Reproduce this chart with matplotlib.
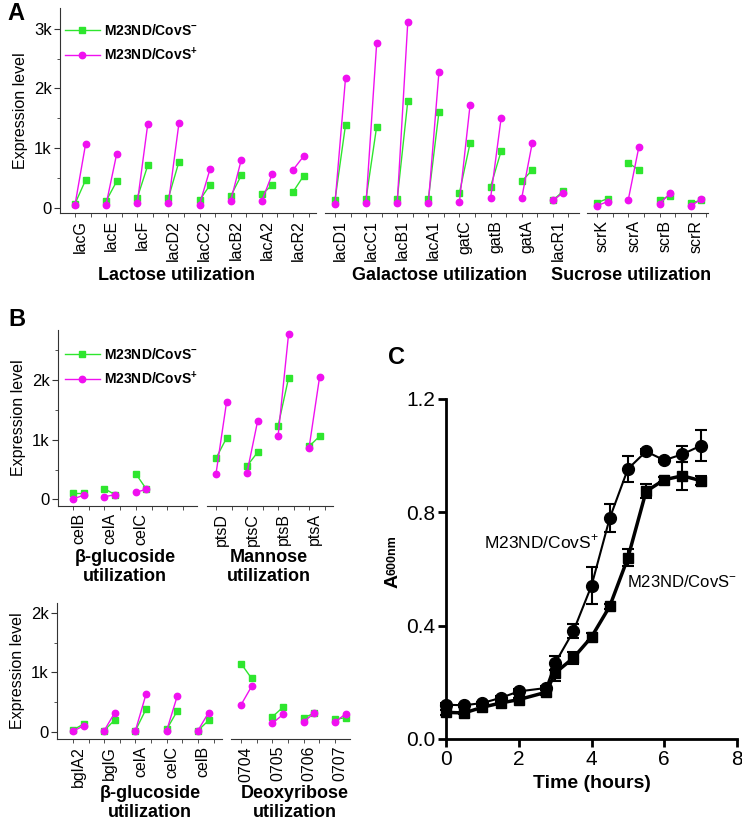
import matplotlib
matplotlib.use("Agg")
import matplotlib.pyplot as plt
import numpy as np
from matplotlib.lines import Line2D

plt.rcParams['font.family'] = ['Liberation Sans', 'DejaVu Sans']
plt.rcParams['mathtext.fontset'] = 'custom'
plt.rcParams['mathtext.rm'] = 'Liberation Sans'
plt.rcParams['mathtext.bf'] = 'Liberation Sans:bold'

W, H = 742, 823
GREEN = '#2ee62e'
MAGENTA = '#f010f0'

# ---- panel A data (expression, in thousands) [left, right] per gene ----
lac_genes = ['lacG', 'lacE', 'lacF', 'lacD2', 'lacC2', 'lacB2', 'lacA2', 'lacR2']
lac_neg = [[0.06, 0.46], [0.11, 0.44], [0.16, 0.71], [0.16, 0.77],
           [0.12, 0.38], [0.19, 0.54], [0.22, 0.38], [0.26, 0.53]]
lac_pos = [[0.04, 1.06], [0.05, 0.90], [0.07, 1.41], [0.07, 1.42],
           [0.05, 0.65], [0.11, 0.80], [0.11, 0.57], [0.63, 0.86]]

gal_genes = ['lacD1', 'lacC1', 'lacB1', 'lacA1', 'gatC', 'gatB', 'gatA', 'lacR1']
gal_neg = [[0.12, 1.39], [0.15, 1.36], [0.14, 1.79], [0.14, 1.60],
           [0.25, 1.08], [0.35, 0.95], [0.44, 0.63], [0.12, 0.28]]
gal_pos = [[0.06, 2.18], [0.08, 2.76], [0.07, 3.12], [0.07, 2.27],
           [0.10, 1.72], [0.16, 1.51], [0.16, 1.09], [0.12, 0.25]]

suc_genes = ['scrK', 'scrA', 'scrB', 'scrR']
suc_neg = [[0.08, 0.15], [0.75, 0.63], [0.12, 0.20], [0.08, 0.12]]
suc_pos = [[0.03, 0.10], [0.13, 1.02], [0.06, 0.24], [0.03, 0.14]]

# ---- panel B top ----
bglu1_genes = ['celB', 'celA', 'celC']
bglu1_neg = [[0.11, 0.11], [0.18, 0.08], [0.43, 0.17]]
bglu1_pos = [[0.01, 0.07], [0.045, 0.08], [0.12, 0.17]]

man_genes = ['ptsD', 'ptsC', 'ptsB', 'ptsA']
man_neg = [[0.69, 1.03], [0.56, 0.79], [1.23, 2.04], [0.89, 1.06]]
man_pos = [[0.43, 1.63], [0.45, 1.31], [1.06, 2.78], [0.87, 2.06]]

# ---- panel B bottom ----
bglu2_genes = ['bglA2', 'bglG', 'celA', 'celC', 'celB']
bglu2_neg = [[0.04, 0.14], [0.03, 0.21], [0.03, 0.39], [0.05, 0.36], [0.03, 0.20]]
bglu2_pos = [[0.02, 0.11], [0.03, 0.33], [0.03, 0.64], [0.03, 0.61], [0.03, 0.33]]

deo_genes = ['0704', '0705', '0706', '0707']
deo_neg = [[1.15, 0.90], [0.26, 0.42], [0.245, 0.32], [0.22, 0.245]]
deo_pos = [[0.46, 0.77], [0.15, 0.30], [0.18, 0.32], [0.17, 0.31]]

# ---- panel C growth curve ----
time_h = [0, 0.5, 1, 1.5, 2, 2.75, 3, 3.5, 4, 4.5, 5, 5.5, 6, 6.5, 7]
od_pos = [0.121, 0.119, 0.127, 0.145, 0.168, 0.18, 0.268, 0.38, 0.541, 0.779,
          0.953, 1.015, 0.984, 1.005, 1.035]
err_pos = [0.006, 0.005, 0.005, 0.008, 0.008, 0.008, 0.025, 0.025, 0.065, 0.05,
           0.045, 0.008, 0.008, 0.028, 0.055]
od_neg = [0.094, 0.092, 0.112, 0.127, 0.139, 0.165, 0.233, 0.286, 0.36, 0.468,
          0.639, 0.874, 0.915, 0.929, 0.912]
err_neg = [0.008, 0.005, 0.005, 0.005, 0.005, 0.008, 0.03, 0.02, 0.015, 0.008,
           0.03, 0.025, 0.008, 0.05, 0.015]

fig = plt.figure(figsize=(W / 100, H / 100), dpi=100)


def px_axes(l, r, top, bottom):
    return fig.add_axes([l / W, 1 - bottom / H, (r - l) / W, (bottom - top) / H])


D = 0.17


def gene_axes(l, r, top, bottom, genes, neg, pos, xlim, ylim, yaxis=False):
    ax = px_axes(l, r, top, bottom)
    for i in range(len(genes)):
        ax.plot([i - D, i + D], neg[i], color=GREEN, marker='s', ms=3.8, lw=1, zorder=2)
        ax.plot([i - D, i + D], pos[i], color=MAGENTA, marker='o', ms=4.6, lw=1, zorder=3)
    for s in ['top', 'right']:
        ax.spines[s].set_visible(False)
    ax.spines['bottom'].set_color('#333333')
    ax.spines['left'].set_color('#333333')
    ax.set_xticks(range(len(genes)))
    ax.set_xticklabels(genes, rotation=90, fontsize=11.5)
    ax.tick_params(axis='x', which='major', length=0, pad=5)
    ax.set_xticks(np.arange(-D, xlim[1], 0.5), minor=True)
    ax.tick_params(axis='x', which='minor', length=3, color='#333333')
    if yaxis:
        major = [v for v in [0, 1, 2, 3] if v <= ylim[1]]
        ax.set_yticks(major)
        ax.set_yticklabels(['0' if v == 0 else f'{v}k' for v in major], fontsize=12)
        ax.set_yticks(np.arange(0.5, ylim[1], 1), minor=True)
        ax.tick_params(axis='y', which='major', length=4, color='#333333', pad=2)
        ax.tick_params(axis='y', which='minor', length=2, color='#333333')
        ax.set_ylabel('Expression level', fontsize=11.5, labelpad=4)
    else:
        ax.spines['left'].set_visible(False)
        ax.set_yticks([])
    ax.set_xlim(*xlim)
    ax.set_ylim(*ylim)
    ax.patch.set_alpha(0)
    return ax


# panel A
ylimA = (-0.092, 3.35)
axA1 = gene_axes(60, 316, 8, 213, lac_genes, lac_neg, lac_pos, (-0.65, 7.57), ylimA, True)
gene_axes(325, 579, 8, 213, gal_genes, gal_neg, gal_pos, (-0.49, 7.67), ylimA)
gene_axes(587, 708, 8, 213, suc_genes, suc_neg, suc_pos, (-0.49, 3.38), ylimA)

# panel B top
ylimB1 = (-0.11, 2.84)
axB1 = gene_axes(58, 197, 330, 506, bglu1_genes, bglu1_neg, bglu1_pos, (-0.65, 3.78), ylimB1, True)
gene_axes(207, 333, 330, 506, man_genes, man_neg, man_pos, (-0.46, 3.6), ylimB1)

# panel B bottom
ylimB2 = (-0.11, 2.16)
gene_axes(57, 222, 603, 739, bglu2_genes, bglu2_neg, bglu2_pos, (-0.68, 4.6), ylimB2, True)
gene_axes(231, 350, 603, 739, deo_genes, deo_neg, deo_pos, (-0.49, 3.31), ylimB2)

# legends
handles = [Line2D([], [], color=GREEN, marker='s', ms=3.8, lw=1),
           Line2D([], [], color=MAGENTA, marker='o', ms=4.6, lw=1)]
labels = [r'M23ND/CovS$^{\mathbf{-}}$', r'M23ND/CovS$^{\mathbf{+}}$']
for ax, ytop in [(axA1, 23), (axB1, 347)]:
    ax.legend(handles, labels, loc='upper left', bbox_to_anchor=(65 / W, 1 - ytop / H),
              bbox_transform=fig.transFigure, frameon=False, numpoints=1,
              handlelength=2.5, handletextpad=0.3, labelspacing=0.55, borderpad=0,
              borderaxespad=0, prop={'weight': 'bold', 'size': 10})

# group titles
def ftext(x, y, s, **kw):
    fig.text(x / W, 1 - y / H, s, ha='center', va='center', **kw)


ftext(176, 275, 'Lactose utilization', fontsize=13, fontweight='bold')
ftext(439, 275, 'Galactose utilization', fontsize=13, fontweight='bold')
ftext(631, 275, 'Sucrose utilization', fontsize=13, fontweight='bold')
ftext(125, 567, 'β-glucoside\nutilization', fontsize=13, fontweight='bold', linespacing=1.15)
ftext(269, 567, 'Mannose\nutilization', fontsize=13, fontweight='bold', linespacing=1.15)
ftext(150, 803, 'β-glucoside\nutilization', fontsize=13, fontweight='bold', linespacing=1.15)
ftext(295, 803, 'Deoxyribose\nutilization', fontsize=13, fontweight='bold', linespacing=1.15)

ftext(16, 13, 'A', fontsize=17, fontweight='bold')
ftext(17, 320, 'B', fontsize=17, fontweight='bold')
ftext(397, 358, 'C', fontsize=17, fontweight='bold')

# panel C
axC = px_axes(446, 737, 399, 739)
axC.errorbar(time_h, od_pos, yerr=err_pos, color='black', marker='o', ms=8.5, lw=1.5,
             capsize=4, elinewidth=1.5, capthick=1.5, clip_on=False, zorder=3)
axC.errorbar(time_h, od_neg, yerr=err_neg, color='black', marker='s', ms=6.5, lw=2.5,
             capsize=4, elinewidth=1.5, capthick=1.5, clip_on=False, zorder=3)
axC.set_xlim(0, 8)
axC.set_ylim(0, 1.2)
axC.set_xticks([0, 2, 4, 6, 8])
axC.set_yticks([0, 0.4, 0.8, 1.2])
axC.set_yticklabels(['0.0', '0.4', '0.8', '1.2'])
for s in ['top', 'right']:
    axC.spines[s].set_visible(False)
for s in ['bottom', 'left']:
    axC.spines[s].set_linewidth(2)
axC.tick_params(width=2, length=6, labelsize=15, pad=2)
axC.set_xlabel('Time (hours)', fontsize=14, fontweight='bold', labelpad=4)
axC.text(1.05, 0.695, r'M23ND/CovS$^{+}$', fontsize=12.5, ha='left', va='center')
axC.text(4.97, 0.554, r'M23ND/CovS$^{-}$', fontsize=12, ha='left', va='center')
axC.patch.set_alpha(0)

fig.text(393 / W, 1 - 581 / H, 'A', rotation=90, fontsize=14, fontweight='bold',
         ha='center', va='center')
fig.text(393 / W, 1 - 555 / H, '600nm', rotation=90, fontsize=9, fontweight='bold',
         ha='center', va='center')

fig.savefig('out.png', dpi=100)
